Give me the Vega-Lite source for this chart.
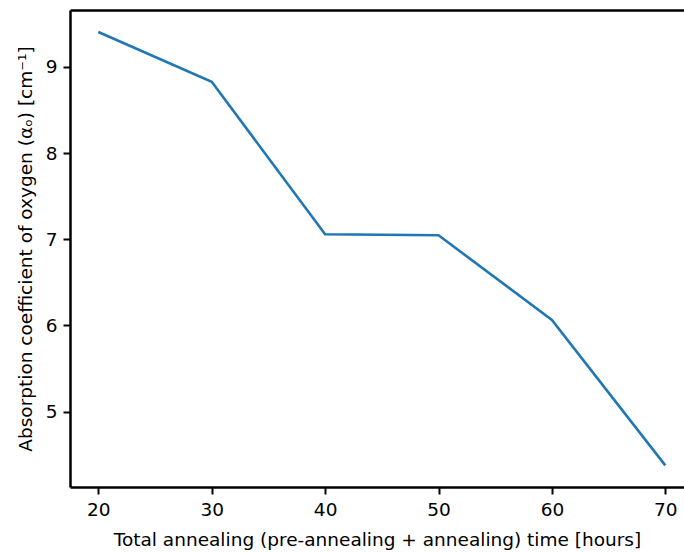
{
  "$schema": "https://vega.github.io/schema/vega-lite/v6.json",
  "width": 614,
  "height": 477,
  "autosize": {"type": "none"},
  "padding": {"left": 70, "top": 10, "right": 0, "bottom": 66},
  "background": "white",
  "config": {
    "view": {"stroke": null},
    "font": "DejaVu Sans",
    "axis": {
      "labelFont": "DejaVu Sans",
      "titleFont": "DejaVu Sans",
      "labelFontSize": 18.5,
      "titleFontSize": 18.5,
      "labelColor": "black",
      "titleColor": "black",
      "titleFontWeight": "normal",
      "domainColor": "black",
      "domainWidth": 2.5,
      "tickColor": "black",
      "tickWidth": 2,
      "tickSize": 7,
      "grid": false
    }
  },
  "data": {
    "values": [
      {"time": 20, "alpha": 9.405},
      {"time": 30, "alpha": 8.827},
      {"time": 40, "alpha": 7.058},
      {"time": 50, "alpha": 7.046},
      {"time": 60, "alpha": 6.064},
      {"time": 70, "alpha": 4.376}
    ]
  },
  "layer": [
    {
      "mark": {"type": "line", "color": "#1f77b4", "strokeWidth": 2.6, "clip": true},
      "encoding": {
        "x": {
          "field": "time",
          "type": "quantitative",
          "scale": {"domain": [17.5, 71.65], "nice": false, "zero": false},
          "axis": {
            "title": "Total annealing (pre-annealing + annealing) time [hours]",
            "values": [20, 30, 40, 50, 60, 70],
            "labelPadding": 6,
            "titlePadding": 12
          }
        },
        "y": {
          "field": "alpha",
          "type": "quantitative",
          "scale": {"domain": [4.125, 9.66], "nice": false, "zero": false},
          "axis": {
            "title": "Absorption coefficient of oxygen (αₒ) [cm⁻¹]",
            "values": [5, 6, 7, 8, 9],
            "labelPadding": 6,
            "titlePadding": 10
          }
        }
      }
    },
    {
      "mark": {"type": "line", "opacity": 0},
      "encoding": {
        "x": {
          "field": "time",
          "type": "quantitative",
          "scale": {"domain": [17.5, 71.65], "nice": false, "zero": false},
          "axis": {"orient": "top", "labels": false, "ticks": false, "title": null}
        }
      }
    }
  ],
  "resolve": {"axis": {"x": "independent"}}
}
